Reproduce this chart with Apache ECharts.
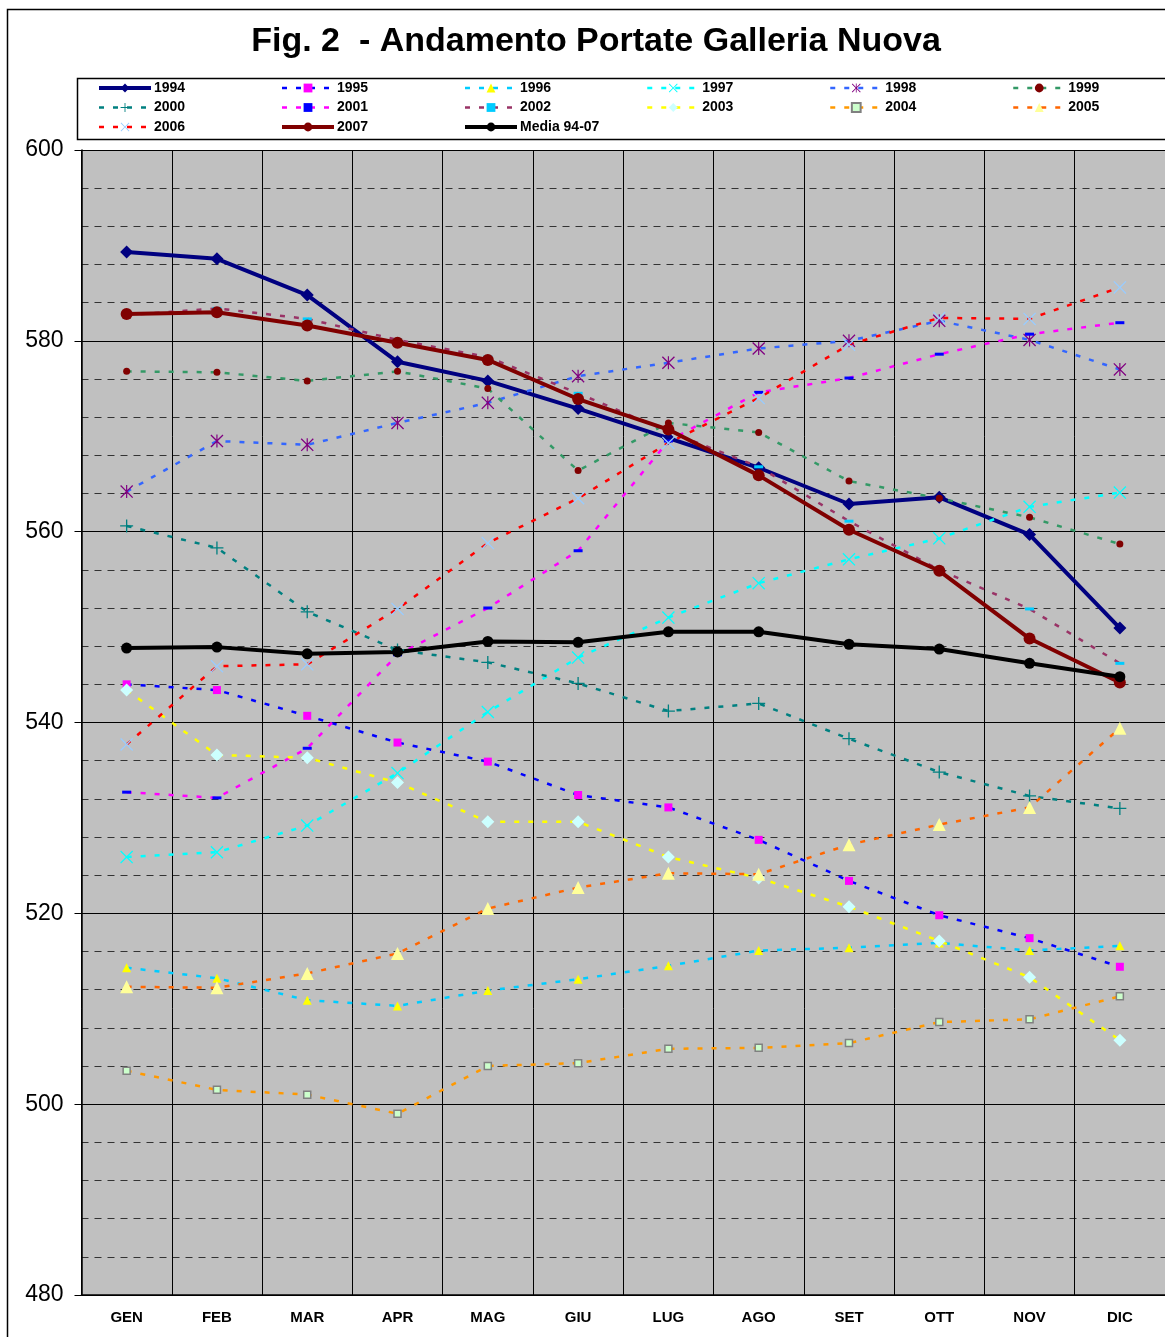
<!DOCTYPE html>
<html>
<head>
<meta charset="utf-8">
<title>Andamento Portate Galleria Nuova</title>
<script src="https://cdn.jsdelivr.net/npm/echarts@6/dist/echarts.min.js"></script>
<style>
  html, body { margin: 0; padding: 0; background: #ffffff; }
  #chart { width: 1165px; height: 1337px; }
</style>
</head>
<body>
<div id="chart"></div>
<script>
// Months on the category axis
const months = ['GEN', 'FEB', 'MAR', 'APR', 'MAG', 'GIU', 'LUG', 'AGO', 'SET', 'OTT', 'NOV', 'DIC'];

// Y axis range and tick step
const yMin = 480;
const yMax = 600;
const yStep = 20;

// Monthly flow values per year
const v1994 = [589.3, 588.6, 584.8, 577.8, 575.8, 572.9, 569.8, 566.7, 562.9, 563.6, 559.7, 549.9];
const v1995 = [544.0, 543.4, 540.7, 537.9, 535.9, 532.4, 531.1, 527.7, 523.4, 519.8, 517.4, 514.4];
const v1996 = [514.3, 513.2, 510.9, 510.3, 511.9, 513.1, 514.5, 516.1, 516.4, 516.9, 516.1, 516.6];
const v1997 = [525.9, 526.4, 529.2, 534.7, 541.1, 546.8, 551.0, 554.6, 557.1, 559.3, 562.6, 564.1];
const v1998 = [564.2, 569.5, 569.1, 571.4, 573.5, 576.3, 577.7, 579.2, 580.0, 582.1, 580.1, 577.0];
const v1999 = [576.8, 576.7, 575.8, 576.8, 575.0, 566.4, 571.4, 570.4, 565.3, 563.5, 561.5, 558.7];
const v2000 = [560.6, 558.3, 551.6, 547.6, 546.3, 544.1, 541.2, 542.0, 538.3, 534.8, 532.3, 531.0];
const v2001 = [532.7, 532.1, 537.3, 547.1, 552.0, 558.0, 569.5, 574.6, 576.1, 578.6, 580.7, 581.9];
const v2002 = [582.7, 583.4, 582.3, 580.1, 578.3, 574.5, 570.5, 566.8, 561.1, 556.0, 551.9, 546.2];
const v2003 = [543.4, 536.6, 536.3, 533.7, 529.6, 529.6, 525.9, 523.7, 520.7, 517.1, 513.3, 506.7];
const v2004 = [503.5, 501.5, 501.0, 499.0, 504.0, 504.3, 505.8, 505.9, 506.4, 508.6, 508.9, 511.3];
const v2005 = [512.3, 512.2, 513.7, 515.8, 520.5, 522.7, 524.2, 524.1, 527.2, 529.3, 531.1, 539.4];
const v2006 = [537.7, 545.9, 546.1, 551.9, 558.8, 563.5, 569.3, 574.0, 579.6, 582.4, 582.3, 585.6];
const v2007 = [582.8, 583.0, 581.6, 579.8, 578.0, 573.9, 570.7, 565.9, 560.2, 555.9, 548.8, 544.2];
const vMedia = [547.8, 547.9, 547.2, 547.4, 548.5, 548.4, 549.5, 549.5, 548.2, 547.7, 546.2, 544.8];

// Marker shapes
const SYM_X = 'path://M0,1.4L1.4,0L10,8.6L18.6,0L20,1.4L11.4,10L20,18.6L18.6,20L10,11.4L1.4,20L0,18.6L8.6,10Z';
const SYM_STAR = 'path://M0,1.4L1.4,0L10,8.6L18.6,0L20,1.4L11.4,10L20,18.6L18.6,20L10,11.4L1.4,20L0,18.6L8.6,10Z M9.1,0L10.9,0L10.9,20L9.1,20Z';
const SYM_PLUS = 'path://M9,0L11,0L11,9L20,9L20,11L11,11L11,20L9,20L9,11L0,11L0,9L9,9Z';

const DOT = [5, 9];

// Series: name, values, line colour, line width, dash, marker, marker size, marker fill, marker border
const seriesDefs = [
  { name: '1994', data: v1994, line: '#000080', w: 4, dash: 'solid', sym: 'diamond', size: 13, fill: '#000080' },
  { name: '1995', data: v1995, line: '#0000FF', w: 2.5, dash: DOT, sym: 'rect', size: 8, fill: '#FF00FF' },
  { name: '1996', data: v1996, line: '#00CCFF', w: 2.5, dash: DOT, sym: 'triangle', size: 9, fill: '#FFFF00' },
  { name: '1997', data: v1997, line: '#00FFFF', w: 2.5, dash: DOT, sym: SYM_X, size: 13, fill: '#00FFFF' },
  { name: '1998', data: v1998, line: '#3366FF', w: 2.5, dash: DOT, sym: SYM_STAR, size: 13, fill: '#800080' },
  { name: '1999', data: v1999, line: '#339966', w: 2.5, dash: DOT, sym: 'circle', size: 7, fill: '#800000' },
  { name: '2000', data: v2000, line: '#008080', w: 2.5, dash: DOT, sym: SYM_PLUS, size: 13, fill: '#008080' },
  { name: '2001', data: v2001, line: '#FF00FF', w: 2.5, dash: DOT, sym: 'rect', size: [9, 3], fill: '#0000FF' },
  { name: '2002', data: v2002, line: '#993366', w: 2.5, dash: DOT, sym: 'rect', size: [9, 3], fill: '#00CCFF' },
  { name: '2003', data: v2003, line: '#FFFF00', w: 2.5, dash: DOT, sym: 'diamond', size: 13, fill: '#CCFFFF' },
  { name: '2004', data: v2004, line: '#FF9900', w: 2.5, dash: DOT, sym: 'rect', size: 7, fill: '#CCFFCC', border: '#808080' },
  { name: '2005', data: v2005, line: '#FF6600', w: 2.5, dash: DOT, sym: 'triangle', size: 13, fill: '#FFFF99' },
  { name: '2006', data: v2006, line: '#FF0000', w: 2.5, dash: DOT, sym: SYM_X, size: 13, fill: '#99CCFF' },
  { name: '2007', data: v2007, line: '#800000', w: 4, dash: 'solid', sym: 'circle', size: 12, fill: '#800000' },
  { name: 'Media 94-07', data: vMedia, line: '#000000', w: 4, dash: 'solid', sym: 'circle', size: 11, fill: '#000000' }
];

const FONT = '"Liberation Sans", Arial, Helvetica, sans-serif';

const series = seriesDefs.map(function (d) {
  return {
    name: d.name,
    type: 'line',
    data: d.data,
    symbol: d.sym,
    symbolSize: d.size,
    showSymbol: true,
    showAllSymbol: true,
    animation: false,
    silent: true,
    lineStyle: { color: d.line, width: d.w, type: d.dash },
    itemStyle: {
      color: d.fill,
      borderColor: d.border || d.fill,
      borderWidth: d.border ? 1.5 : 0
    }
  };
});

// Legend laid out in six columns
const legendCols = [
  ['1994', '2000', '2006'],
  ['1995', '2001', '2007'],
  ['1996', '2002', 'Media 94-07'],
  ['1997', '2003'],
  ['1998', '2004'],
  ['1999', '2005']
];
const legendX = [97, 280, 463, 646, 829, 1012];

function legendItem(name) {
  const d = seriesDefs.find(function (s) { return s.name === name; });
  return {
    name: name,
    lineStyle: { width: d.w, color: d.line, type: d.dash }
  };
}

const legends = legendCols.map(function (col, i) {
  return {
    data: col.map(legendItem),
    orient: 'vertical',
    left: legendX[i],
    top: 81,
    itemWidth: 52,
    itemHeight: 11,
    itemGap: 5.5,
    padding: 0,
    selectedMode: false,
    textStyle: { fontFamily: FONT, fontSize: 14, fontWeight: 'bold', color: '#000', padding: [0, 0, 0, -2] }
  };
});

const chart = echarts.init(document.getElementById('chart'), null, { renderer: 'canvas' });

chart.setOption({
  backgroundColor: '#ffffff',
  animation: false,
  title: {
    text: 'Fig. 2  - Andamento Portate Galleria Nuova',
    left: 591,
    top: 20,
    textAlign: 'center',
    textStyle: { fontFamily: FONT, fontSize: 34, fontWeight: 'bold', color: '#000' }
  },
  legend: legends,
  graphic: [
    { type: 'rect', shape: { x: 7.5, y: 9.5, width: 1175, height: 1340 }, style: { fill: null, stroke: '#000', lineWidth: 1.5 }, z: -1 },
    { type: 'rect', shape: { x: 77.5, y: 78.5, width: 1100, height: 61 }, style: { fill: '#fff', stroke: '#000', lineWidth: 1.5 }, z: -1 }
  ],
  grid: {
    left: 81.5,
    top: 150,
    width: 1088,
    height: 1145,
    show: true,
    backgroundColor: '#C0C0C0',
    borderWidth: 0
  },
  xAxis: {
    type: 'category',
    data: months,
    boundaryGap: true,
    axisLine: { show: true, lineStyle: { color: '#000', width: 1.5 } },
    axisTick: { show: false },
    axisLabel: { fontFamily: FONT, fontSize: 15, fontWeight: 'bold', color: '#000', margin: 15 },
    splitLine: { show: true, lineStyle: { color: '#000', width: 1 } }
  },
  yAxis: {
    type: 'value',
    min: yMin,
    max: yMax,
    interval: yStep,
    axisLine: { show: true, lineStyle: { color: '#000', width: 1.5 } },
    axisTick: { show: true, inside: false, length: 7, lineStyle: { color: '#000' } },
    axisLabel: { fontFamily: FONT, fontSize: 23, color: '#000', margin: 18 },
    splitLine: { show: true, lineStyle: { color: '#000', width: 1.2 } },
    minorTick: { show: false, splitNumber: 5 },
    minorSplitLine: { show: true, lineStyle: { color: '#333', width: 1.2, type: [7, 6] } }
  },
  series: series
});
</script>
</body>
</html>
